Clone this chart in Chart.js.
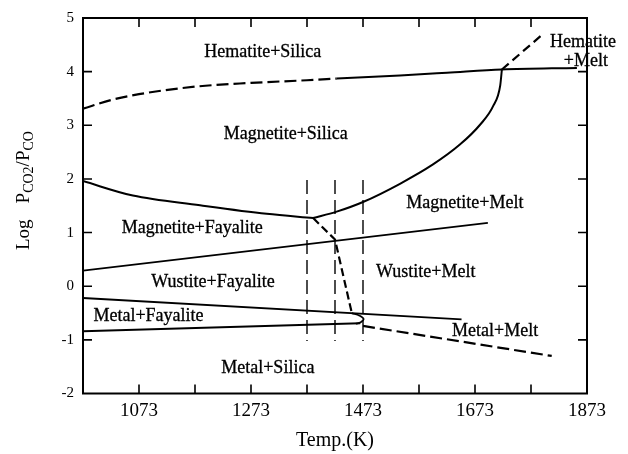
<!DOCTYPE html>
<html>
<head>
<meta charset="utf-8">
<script src="https://cdn.jsdelivr.net/npm/chart.js@4.4.1/dist/chart.umd.min.js"></script>
<style>
  html, body { margin: 0; padding: 0; background: #ffffff; }
  #wrap { width: 628px; height: 454px; }
</style>
</head>
<body>
<div id="wrap"><canvas id="phase" width="628" height="454"></canvas></div>
<script>
// ---- Axis values ----
const tempLabels = [1073, 1273, 1473, 1673, 1873];          // labelled temperatures (K)
const tempMinor = [1073, 1173, 1273, 1373, 1473, 1573, 1673, 1773]; // tick marks (K)
const logTicks = [-2, -1, 0, 1, 2, 3, 4, 5];                 // log(PCO2/PCO)

// ---- Phase boundaries: temperature (K) and log(PCO2/PCO) ----
// Hematite / magnetite, metastable (dashed) part
const hemMagDashT = [973, 1023, 1073, 1173, 1273, 1373, 1426];
const hemMagDashLog = [3.31, 3.47, 3.58, 3.72, 3.79, 3.84, 3.87];
// Hematite / magnetite, stable part
const hemMagT = [1426, 1539, 1623, 1721, 1855];
const hemMagLog = [3.87, 3.93, 3.98, 4.04, 4.07];
// Hematite + melt boundary
const hemMeltT = [1721, 1792];
const hemMeltLog = [4.04, 4.68];
// Magnetite+Silica / Magnetite+Melt
const magMeltT = [1384, 1426, 1473, 1539, 1598, 1646, 1682, 1706, 1718, 1721];
const magMeltLog = [1.27, 1.39, 1.57, 1.91, 2.27, 2.64, 3.01, 3.37, 3.74, 4.04];
// Magnetite+Silica / Magnetite+Fayalite
const magFayT = [973, 1062, 1182, 1301, 1384];
const magFayLog = [1.96, 1.69, 1.51, 1.35, 1.27];
// Magnetite+Fayalite / Wustite+Fayalite
const magWusT = [973, 1696];
const magWusLog = [0.29, 1.18];
// Fayalite melting boundary (dashed)
const fayMeltT = [1384, 1423, 1453];
const fayMeltLog = [1.27, 0.87, -0.50];
// Wustite+Fayalite / Metal+Fayalite
const wusMetT = [973, 1649];
const wusMetLog = [-0.22, -0.62];
// Metal+Fayalite / Metal+Silica
const metSilT = [973, 1468];
const metSilLog = [-0.84, -0.69];
// Closure near 1473 K
const noseT = [1453, 1467, 1474, 1469, 1460];
const noseLog = [-0.50, -0.55, -0.61, -0.67, -0.70];
// Metal+Silica / Metal+Melt (dashed)
const metMeltT = [1473, 1810];
const metMeltLog = [-0.74, -1.30];
// Isotherms (dashed verticals)
const isoTemps = [1373, 1423, 1473];
const isoLogRange = [1.98, -1.02];

// ---- Field names and where they sit (K, log) ----
const fieldNames = ['Hematite+Silica', 'Magnetite+Silica', 'Hematite', '+Melt', 'Magnetite+Melt',
  'Magnetite+Fayalite', 'Wustite+Fayalite', 'Wustite+Melt', 'Metal+Fayalite', 'Metal+Melt', 'Metal+Silica'];
const fieldT = [1294, 1335, 1866, 1871, 1655, 1168, 1205, 1585, 1090, 1709, 1303];
const fieldLog = [4.27, 2.75, 4.46, 4.10, 1.45, 0.99, -0.01, 0.17, -0.64, -0.93, -1.62];

const SERIF = '"Liberation Serif", "Times New Roman", serif';
const INK = '#000000';

const pts = (xs, ys) => xs.map((x, i) => ({ x: x, y: ys[i] }));

function boundary(xs, ys, opts) {
  return Object.assign({
    data: pts(xs, ys),
    showLine: true,
    borderColor: INK,
    borderWidth: 2,
    pointRadius: 0,
    fill: false,
    tension: 0,
    borderCapStyle: 'butt'
  }, opts || {});
}

const datasets = [
  boundary(hemMagDashT, hemMagDashLog, { borderDash: [12, 5], borderWidth: 2.2, cubicInterpolationMode: 'monotone' }),
  boundary(hemMagT, hemMagLog, { cubicInterpolationMode: 'monotone' }),
  boundary(hemMeltT, hemMeltLog, { borderDash: [9, 5], borderWidth: 2.2 }),
  boundary(magMeltT, magMeltLog, { cubicInterpolationMode: 'monotone' }),
  boundary(magFayT, magFayLog, { cubicInterpolationMode: 'monotone' }),
  boundary(magWusT, magWusLog, { borderWidth: 1.8 }),
  boundary(fayMeltT, fayMeltLog, { borderDash: [8, 4], borderWidth: 2.2 }),
  boundary(wusMetT, wusMetLog, { borderWidth: 1.8 }),
  boundary(metSilT, metSilLog, { borderWidth: 1.8 }),
  boundary(noseT, noseLog, { tension: 0.4, borderWidth: 1.8 }),
  boundary(metMeltT, metMeltLog, { borderDash: [12, 5], borderWidth: 2.2 })
];
isoTemps.forEach(t => {
  datasets.push(boundary([t, t], isoLogRange, { borderWidth: 1.4, borderDash: [14, 6] }));
});

// Frame with inward ticks, field names and the y-axis title with subscripts
const framePlugin = {
  id: 'frame',
  beforeDraw(chart) {
    const c = chart.ctx;
    c.save();
    c.fillStyle = '#ffffff';
    c.fillRect(0, 0, chart.width, chart.height);
    c.restore();
  },
  afterDatasetsDraw(chart) {
    const c = chart.ctx;
    const { left, right, top, bottom } = chart.chartArea;
    const xs = chart.scales.x, ys = chart.scales.y;
    c.save();
    c.strokeStyle = INK;
    c.lineWidth = 2;
    c.strokeRect(left, top, right - left, bottom - top);

    c.lineWidth = 1.6;
    c.beginPath();
    tempMinor.forEach(t => {
      const px = xs.getPixelForValue(t);
      c.moveTo(px, bottom); c.lineTo(px, bottom - 9);
      c.moveTo(px, top); c.lineTo(px, top + 9);
    });
    logTicks.forEach(v => {
      if (v === logTicks[0] || v === logTicks[logTicks.length - 1]) return;
      const py = ys.getPixelForValue(v);
      c.moveTo(left, py); c.lineTo(left + 9, py);
      c.moveTo(right, py); c.lineTo(right - 9, py);
    });
    c.stroke();

    // field names
    c.fillStyle = INK;
    c.strokeStyle = INK;
    c.lineWidth = 0.3;
    c.font = '18px ' + SERIF;
    c.textAlign = 'center';
    c.textBaseline = 'alphabetic';
    fieldNames.forEach((name, i) => {
      const px = xs.getPixelForValue(fieldT[i]), py = ys.getPixelForValue(fieldLog[i]);
      c.fillText(name, px, py);
      c.strokeText(name, px, py);
    });

    // y-axis title: Log  P_CO2 / P_CO
    c.translate(29, 250);
    c.rotate(-Math.PI / 2);
    c.textAlign = 'left';
    const big = '19px ' + SERIF, small = '14px ' + SERIF;
    let x = 0;
    const put = (txt, font, dy) => {
      c.font = font;
      c.fillText(txt, x, dy);
      x += c.measureText(txt).width;
    };
    put('Log', big, 0);
    x += 16;
    put('P', big, 0);
    put('CO2', small, 4);
    put('/', big, 0);
    put('P', big, 0);
    put('CO', small, 4);
    c.restore();
  }
};

new Chart(document.getElementById('phase'), {
  type: 'scatter',
  data: { datasets: datasets },
  options: {
    responsive: false,
    animation: false,
    devicePixelRatio: 1,
    layout: { padding: { left: 0, right: 41, top: 11, bottom: 0 } },
    plugins: { legend: { display: false }, tooltip: { enabled: false } },
    scales: {
      x: {
        type: 'linear',
        min: 973,
        max: 1873,
        afterBuildTicks: s => { s.ticks = tempLabels.map(v => ({ value: v })); },
        afterFit: s => { s.height = 60.5; },
        grid: { display: false, drawTicks: false },
        border: { display: false },
        ticks: {
          color: INK,
          font: { family: SERIF, size: 19 },
          padding: 6,
          autoSkip: false,
          maxRotation: 0,
          callback: v => String(v)
        },
        title: {
          display: true,
          text: 'Temp.(K)',
          color: INK,
          font: { family: SERIF, size: 20 },
          padding: { top: 0, bottom: 1 }
        }
      },
      y: {
        type: 'linear',
        min: -2,
        max: 5,
        afterBuildTicks: s => { s.ticks = logTicks.map(v => ({ value: v })); },
        afterFit: s => { s.width = 83; },
        grid: { display: false, drawTicks: false },
        border: { display: false },
        ticks: {
          color: INK,
          font: { family: SERIF, size: 15 },
          padding: 9,
          autoSkip: false,
          callback: v => String(v)
        }
      }
    }
  },
  plugins: [framePlugin]
});
</script>
</body>
</html>
